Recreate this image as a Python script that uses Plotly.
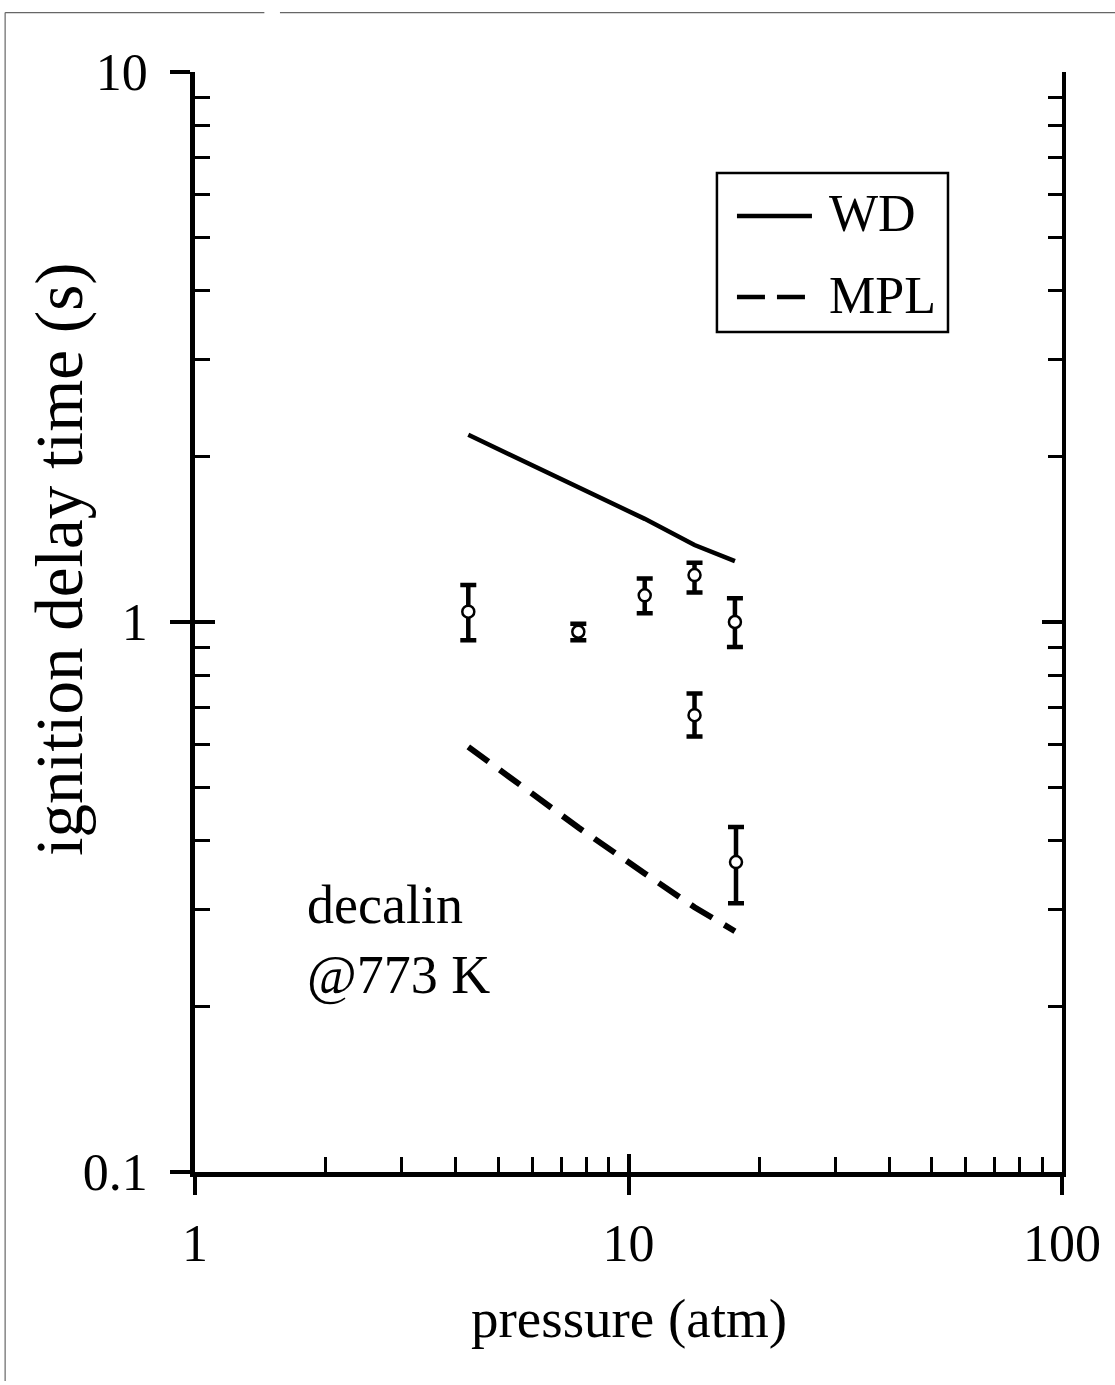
import plotly.graph_objects as go

# measured ignition delays for decalin at 773 K
pressure_atm = [4.27, 7.66, 10.9, 14.2, 17.6, 14.2, 17.7]
delay_s = [1.044, 0.960, 1.118, 1.217, 1.000, 0.677, 0.366]
err_plus = [0.124, 0.033, 0.082, 0.065, 0.104, 0.064, 0.058]
err_minus = [0.118, 0.034, 0.081, 0.086, 0.099, 0.058, 0.058]

# model predictions
model_pressure = [4.27, 7.66, 10.9, 14.2, 17.6]
wd_delay = [2.19, 1.76, 1.54, 1.38, 1.29]
mpl_delay = [0.593, 0.423, 0.349, 0.303, 0.274]

x_tick_vals = [1, 10, 100]
x_tick_text = ["1", "10", "100"]
y_tick_vals = [0.1, 1, 10]
y_tick_text = ["0.1", "1", "10"]

FONT = "Liberation Serif"
x_minor = [m * 10 ** e for e in (0, 1) for m in range(2, 10)]
y_minor = [m * 10 ** e for e in (-1, 0) for m in range(2, 10)]

fig = go.Figure()

fig.add_trace(go.Scatter(
    x=model_pressure, y=wd_delay, mode="lines", name="WD",
    line=dict(color="black", width=4.5), showlegend=False))
fig.add_trace(go.Scatter(
    x=model_pressure, y=mpl_delay, mode="lines", name="MPL",
    line=dict(color="black", width=6, dash="25px,14px"), showlegend=False))
fig.add_trace(go.Scatter(
    x=pressure_atm, y=delay_s, mode="markers", name="data",
    marker=dict(symbol="circle", size=12, color="white",
                line=dict(color="black", width=2.5)),
    error_y=dict(type="data", array=err_plus, arrayminus=err_minus,
                 color="black", thickness=4.5, width=8),
    showlegend=False))

# empty traces so the overlay axes get their own subplots
fig.add_trace(go.Scatter(x=[], y=[], xaxis="x2", yaxis="y", showlegend=False, hoverinfo="skip"))
fig.add_trace(go.Scatter(x=[], y=[], xaxis="x", yaxis="y2", showlegend=False, hoverinfo="skip"))
fig.add_trace(go.Scatter(x=[], y=[], xaxis="x", yaxis="y3", showlegend=False, hoverinfo="skip"))

x_range = [0, 2]
y_range = [-1, 1]

fig.update_layout(
    width=1115, height=1385,
    margin=dict(l=195, r=53, t=72, b=213),
    paper_bgcolor="white", plot_bgcolor="white",
    font=dict(family=FONT, color="black", size=52),
    xaxis=dict(
        type="log", range=x_range, showgrid=False, zeroline=False,
        showline=True, linecolor="black", linewidth=4.5,
        tickmode="array", tickvals=x_tick_vals, ticktext=x_tick_text,
        ticks="outside", ticklen=18, tickwidth=4, tickcolor="black",
        ticklabelstandoff=4, tickfont=dict(family=FONT, size=52),
        minor=dict(tickmode="array", tickvals=x_minor, ticks="inside",
                   ticklen=15, tickwidth=3, tickcolor="black", showgrid=False),
    ),
    xaxis2=dict(
        type="log", range=x_range, overlaying="x", anchor="y", side="bottom",
        showgrid=False, zeroline=False, showline=False, showticklabels=False,
        tickmode="array", tickvals=x_tick_vals,
        ticks="inside", ticklen=18, tickwidth=4, tickcolor="black",
    ),
    yaxis=dict(
        type="log", range=y_range, showgrid=False, zeroline=False,
        showline=True, linecolor="black", linewidth=4.5,
        tickmode="array", tickvals=y_tick_vals, ticktext=y_tick_text,
        ticks="outside", ticklen=20, tickwidth=4, tickcolor="black",
        ticklabelstandoff=12, tickfont=dict(family=FONT, size=52),
        minor=dict(tickmode="array", tickvals=y_minor, ticks="inside",
                   ticklen=15, tickwidth=3, tickcolor="black", showgrid=False),
    ),
    yaxis2=dict(
        type="log", range=y_range, overlaying="y", anchor="x", side="left",
        showgrid=False, zeroline=False, showline=False, showticklabels=False,
        tickmode="array", tickvals=y_tick_vals,
        ticks="inside", ticklen=20, tickwidth=4, tickcolor="black",
    ),
    yaxis3=dict(
        type="log", range=y_range, overlaying="y", anchor="x", side="right",
        showgrid=False, zeroline=False, showline=True, linecolor="black",
        linewidth=4, showticklabels=False,
        tickmode="array", tickvals=y_tick_vals,
        ticks="inside", ticklen=20, tickwidth=4, tickcolor="black",
        minor=dict(tickmode="array", tickvals=y_minor, ticks="inside",
                   ticklen=14, tickwidth=3, tickcolor="black", showgrid=False),
    ),
)

# axis titles
fig.add_annotation(text="pressure (atm)", xref="paper", yref="paper",
                   x=0.5, y=-0.133, xanchor="center", yanchor="middle",
                   showarrow=False, font=dict(family=FONT, size=55))
fig.add_annotation(text="ignition delay time (s)", xref="paper", yref="paper",
                   x=-0.156, y=0.557, xanchor="center", yanchor="middle",
                   textangle=-90, showarrow=False, font=dict(family=FONT, size=67))

# condition label
fig.add_annotation(text="decalin", xref="paper", yref="paper",
                   x=0.127, y=0.243, xanchor="left", yanchor="middle",
                   showarrow=False, font=dict(family=FONT, size=54))
fig.add_annotation(text="@773 K", xref="paper", yref="paper",
                   x=0.127, y=0.179, xanchor="left", yanchor="middle",
                   showarrow=False, font=dict(family=FONT, size=54))

# legend box with line samples
fig.add_shape(type="rect", xref="paper", yref="paper",
              x0=0.602, x1=0.8685, y0=0.7636, y1=0.9082,
              line=dict(color="black", width=2.5), fillcolor="white")
fig.add_shape(type="line", xref="paper", yref="paper",
              x0=0.6251, x1=0.7116, y0=0.869, y1=0.869,
              line=dict(color="black", width=4.5))
fig.add_shape(type="line", xref="paper", yref="paper",
              x0=0.6251, x1=0.7116, y0=0.7955, y1=0.7955,
              line=dict(color="black", width=4.5, dash="28px,12px"))
fig.add_annotation(text="WD", xref="paper", yref="paper",
                   x=0.729, y=0.871, xanchor="left", yanchor="middle",
                   showarrow=False, font=dict(family=FONT, size=52))
fig.add_annotation(text="MPL", xref="paper", yref="paper",
                   x=0.729, y=0.797, xanchor="left", yanchor="middle",
                   showarrow=False, font=dict(family=FONT, size=52))

# thin page frame
fig.add_shape(type="line", xref="paper", yref="paper",
              x0=-0.219, x1=-0.219, y0=-0.19, y1=1.054,
              line=dict(color="#666", width=1.2))
fig.add_shape(type="line", xref="paper", yref="paper",
              x0=-0.219, x1=0.08, y0=1.054, y1=1.054,
              line=dict(color="#666", width=1.2))
fig.add_shape(type="line", xref="paper", yref="paper",
              x0=0.098, x1=1.07, y0=1.054, y1=1.054,
              line=dict(color="#666", width=1.2))

fig.write_html("out.html")
